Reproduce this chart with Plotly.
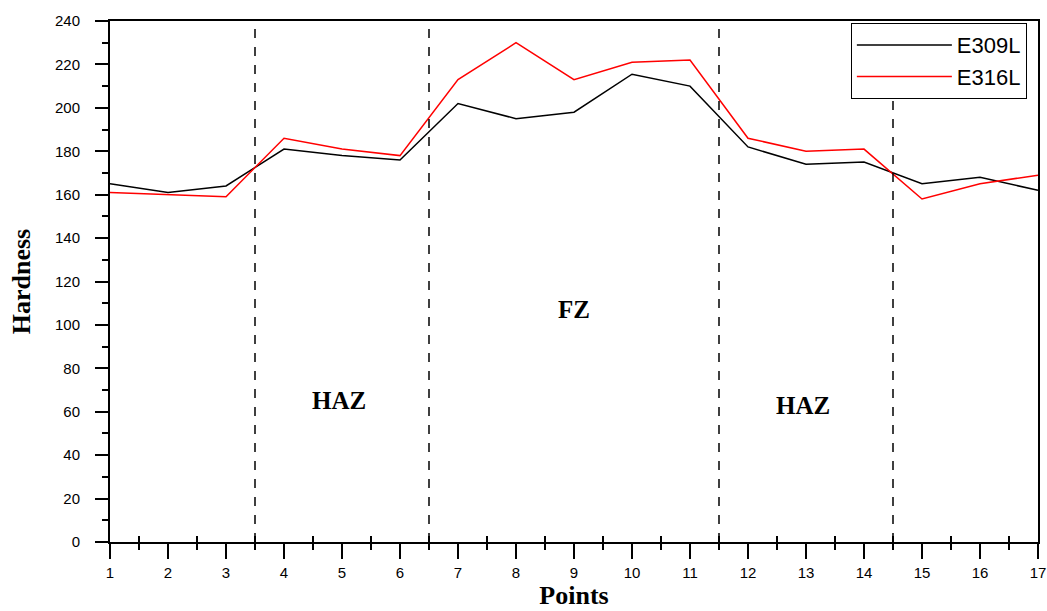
import plotly.graph_objects as go

points = list(range(1, 18))
e309l = [165, 161, 164, 181, 178, 176, 202, 195, 198, 215.5, 210, 182, 174, 175, 165, 168, 162]
e316l = [161, 160, 159, 186, 181, 178, 213, 230, 213, 221, 222, 186, 180, 181, 158, 165, 169]

zone_boundaries = [3.5, 6.5, 11.5, 14.5]
zone_names = ["HAZ", "FZ", "HAZ"]
zone_label_x = [4.95, 9.0, 12.95]
zone_label_y = [65, 107, 63]

y_ticks = list(range(0, 241, 20))
x_ticks = points
x_half_ticks = [p + 0.5 for p in points[:-1]]

fig = go.Figure()
fig.add_trace(go.Scatter(x=points, y=e309l, mode="lines", name="E309L",
                         line=dict(color="black", width=1.5)))
fig.add_trace(go.Scatter(x=points, y=e316l, mode="lines", name="E316L",
                         line=dict(color="#ff0000", width=1.5)))
# invisible trace to activate the secondary x axis (half-step ticks drawn inside)
fig.add_trace(go.Scatter(x=[points[0], points[-1]], y=[None, None], xaxis="x2",
                         showlegend=False, hoverinfo="skip", mode="lines"))

for xb in zone_boundaries:
    fig.add_vline(x=xb, line=dict(color="black", width=1.5, dash="dash"))

for name, xx, yy in zip(zone_names, zone_label_x, zone_label_y):
    fig.add_annotation(x=xx, y=yy, text=f"<b>{name}</b>", showarrow=False,
                       font=dict(family="Liberation Serif", size=25, color="black"))

tick_font = dict(family="Liberation Sans", size=15, color="black")

fig.update_layout(
    width=1047, height=611,
    margin=dict(l=110, r=9, t=21, b=69),
    paper_bgcolor="white", plot_bgcolor="white",
    showlegend=True,
    legend=dict(x=0.988, y=0.996, xanchor="right", yanchor="top",
                bgcolor="white", bordercolor="black", borderwidth=1,
                font=dict(family="Liberation Sans", size=22, color="black"),
                tracegroupgap=0, itemwidth=95),
    xaxis=dict(range=[points[0], points[-1]], tickvals=x_ticks,
               ticktext=[str(v) for v in x_ticks], automargin=False,
               showline=True, linecolor="black", linewidth=2, mirror=True,
               ticks="outside", ticklen=15, tickwidth=2, tickcolor="black",
               minor=dict(tickvals=x_half_ticks, ticks="outside", ticklen=6,
                          tickwidth=2, tickcolor="black", showgrid=False),
               showgrid=False, zeroline=False, tickfont=tick_font,
               ticklabelstandoff=1,
               title=dict(text="<b>Points</b>", standoff=4,
                          font=dict(family="Liberation Serif", size=26, color="black"))),
    xaxis2=dict(range=[points[0], points[-1]], overlaying="x", side="bottom",
                tickvals=x_half_ticks, showticklabels=False, automargin=False,
                ticks="inside", ticklen=6, tickwidth=2, tickcolor="black",
                showgrid=False, zeroline=False, showline=False),
    yaxis=dict(range=[0, 240], tickvals=y_ticks,
               ticktext=[str(v) for v in y_ticks], automargin=False,
               showline=True, linecolor="black", linewidth=2, mirror=True,
               ticks="outside", ticklen=13, tickwidth=2, tickcolor="black",
               minor=dict(dtick=10, ticks="outside", ticklen=6, tickwidth=2,
                          tickcolor="black", showgrid=False),
               showgrid=False, zeroline=False, tickfont=tick_font,
               ticklabelstandoff=12,
               title=dict(text="<b>Hardness</b>", standoff=17,
                          font=dict(family="Liberation Serif", size=26, color="black"))),
)

fig.write_html("out.html", config={"displayModeBar": False},
               post_script="document.body.style.margin='0';document.body.style.overflow='hidden';")
